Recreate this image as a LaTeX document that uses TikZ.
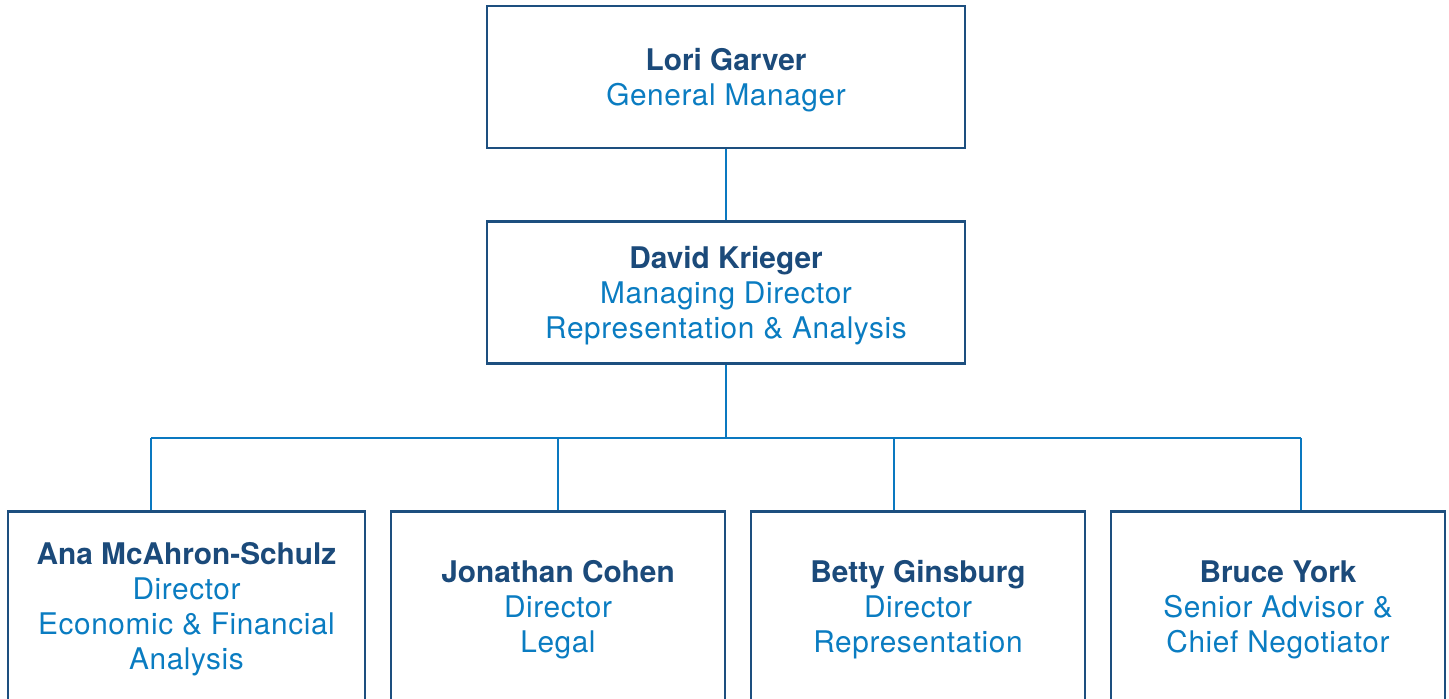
\documentclass[tikz,border=0pt]{standalone}
\usepackage{fontspec}
\setmainfont{TeX Gyre Heros}
\newfontfamily\titlefont[LetterSpace=2.0]{TeX Gyre Heros}
\usepackage{tikz}
\usetikzlibrary{positioning}

\definecolor{boxnavy}{HTML}{1D4F7F}
\definecolor{namenavy}{HTML}{1B4A7A}
\definecolor{titleblue}{HTML}{0A7CC1}
\definecolor{linkblue}{HTML}{0A78C0}

\newcommand{\pname}[1]{{\normalfont\bfseries\color{namenavy}\rule{0pt}{14pt}#1}}

\begin{document}
\begin{tikzpicture}[x=0.5pt,y=-0.5pt,
    every node/.style={font=\fontsize{14.9}{17.5}\selectfont\titlefont, text=titleblue, align=center},
    person/.style={draw=boxnavy, line width=1.25pt, inner sep=0pt},
    headbox/.style={person, minimum width=239pt, minimum height=71pt},
    staffbox/.style={person, anchor=north, minimum width=167pt, minimum height=95pt},
    link/.style={draw=linkblue, line width=1pt}]
                \useasboundingbox (0,0) rectangle (1449,698);
                \clip (0,0) rectangle (1449,698);
                % top of the chart
                \node[headbox] (lori) at (726,77) {\pname{Lori Garver}\\General Manager};
                \node[headbox] (david) at (726,292.5) {\pname{David Krieger}\\Managing Director\\Representation \& Analysis};
                % staff row
                \node[staffbox, minimum width=178.5pt] (ana) at (186.5,510) {\pname{Ana McAhron-Schulz}\\Director\\Economic \& Financial\\Analysis};
                \node[staffbox] (jonathan) at (558,510) {\pname{Jonathan Cohen}\\Director\\Legal};
                \node[staffbox] (betty) at (918,510) {\pname{Betty Ginsburg}\\Director\\Representation};
                \node[staffbox] (bruce) at (1278,510) {\pname{Bruce York}\\Senior Advisor \&\\Chief Negotiator};
                % connectors
                \coordinate (bus) at (726,438);
                \coordinate (c1) at (151,438);
                \coordinate (c2) at (558,438);
                \coordinate (c3) at (894,438);
                \coordinate (c4) at (1301,438);
                \draw[link] (lori) -- (david);
                \draw[link] (david) -- (bus);
                \draw[link] (c1) -- (c4);
                \draw[link] (c1) -- (c1 |- ana.north);
                \draw[link] (c2) -- (c2 |- jonathan.north);
                \draw[link] (c3) -- (c3 |- betty.north);
                \draw[link] (c4) -- (c4 |- bruce.north);
            \end{tikzpicture}
\end{document}
